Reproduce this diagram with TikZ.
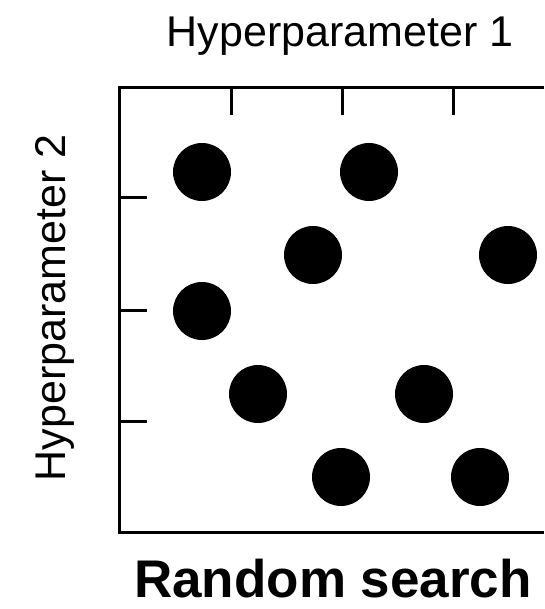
\documentclass[tikz,border=0pt]{standalone}
\usepackage{fontspec}
\setmainfont{Liberation Sans}
\begin{document}
\begin{tikzpicture}[x=1pt,y=-1pt,
  frame/.style={line width=3pt},
  tick/.style={line width=3pt},
  pt/.style={circle,fill=black,minimum size=58pt,inner sep=0pt},
  lbl/.style={font=\fontsize{43}{50}\selectfont,inner sep=0pt},
  ttl/.style={font=\fontsize{53}{60}\selectfont\bfseries,inner sep=0pt}]
\useasboundingbox (0,0) rectangle (544,609);
\fill[white] (0,0) rectangle (544,609);
\coordinate (fa) at (544,88);
\coordinate (fb) at (119,88);
\coordinate (fc) at (119,532);
\coordinate (fd) at (544,532);
\draw[frame] (fa) -- (fb) -- (fc) -- (fd);
\foreach \x/\n in {231/a,342/b,453/c}{
  \coordinate (t\n) at (\x,88);
  \coordinate (t\n e) at (\x,115);
  \draw[tick] (t\n) -- (t\n e);
}
\foreach \y/\n in {198/a,310/b,421/c}{
  \coordinate (l\n) at (119,\y);
  \coordinate (l\n e) at (147,\y);
  \draw[tick] (l\n) -- (l\n e);
}
\node[pt] (p1) at (202,172) {};
\node[pt] (p2) at (369,172) {};
\node[pt] (p3) at (313,255) {};
\node[pt] (p4) at (508,255) {};
\node[pt] (p5) at (202,311) {};
\node[pt] (p6) at (258,394) {};
\node[pt] (p7) at (424,394) {};
\node[pt] (p8) at (341,477) {};
\node[pt] (p9) at (480,477) {};
\node[lbl,anchor=base] (h1) at (340,47) {Hyperparameter 1};
\node[lbl,anchor=base,rotate=90] (h2) at (65,308) {Hyperparameter 2};
\node[ttl,anchor=base west] (rs) at (134,597) {Random search};
\end{tikzpicture}
\end{document}
